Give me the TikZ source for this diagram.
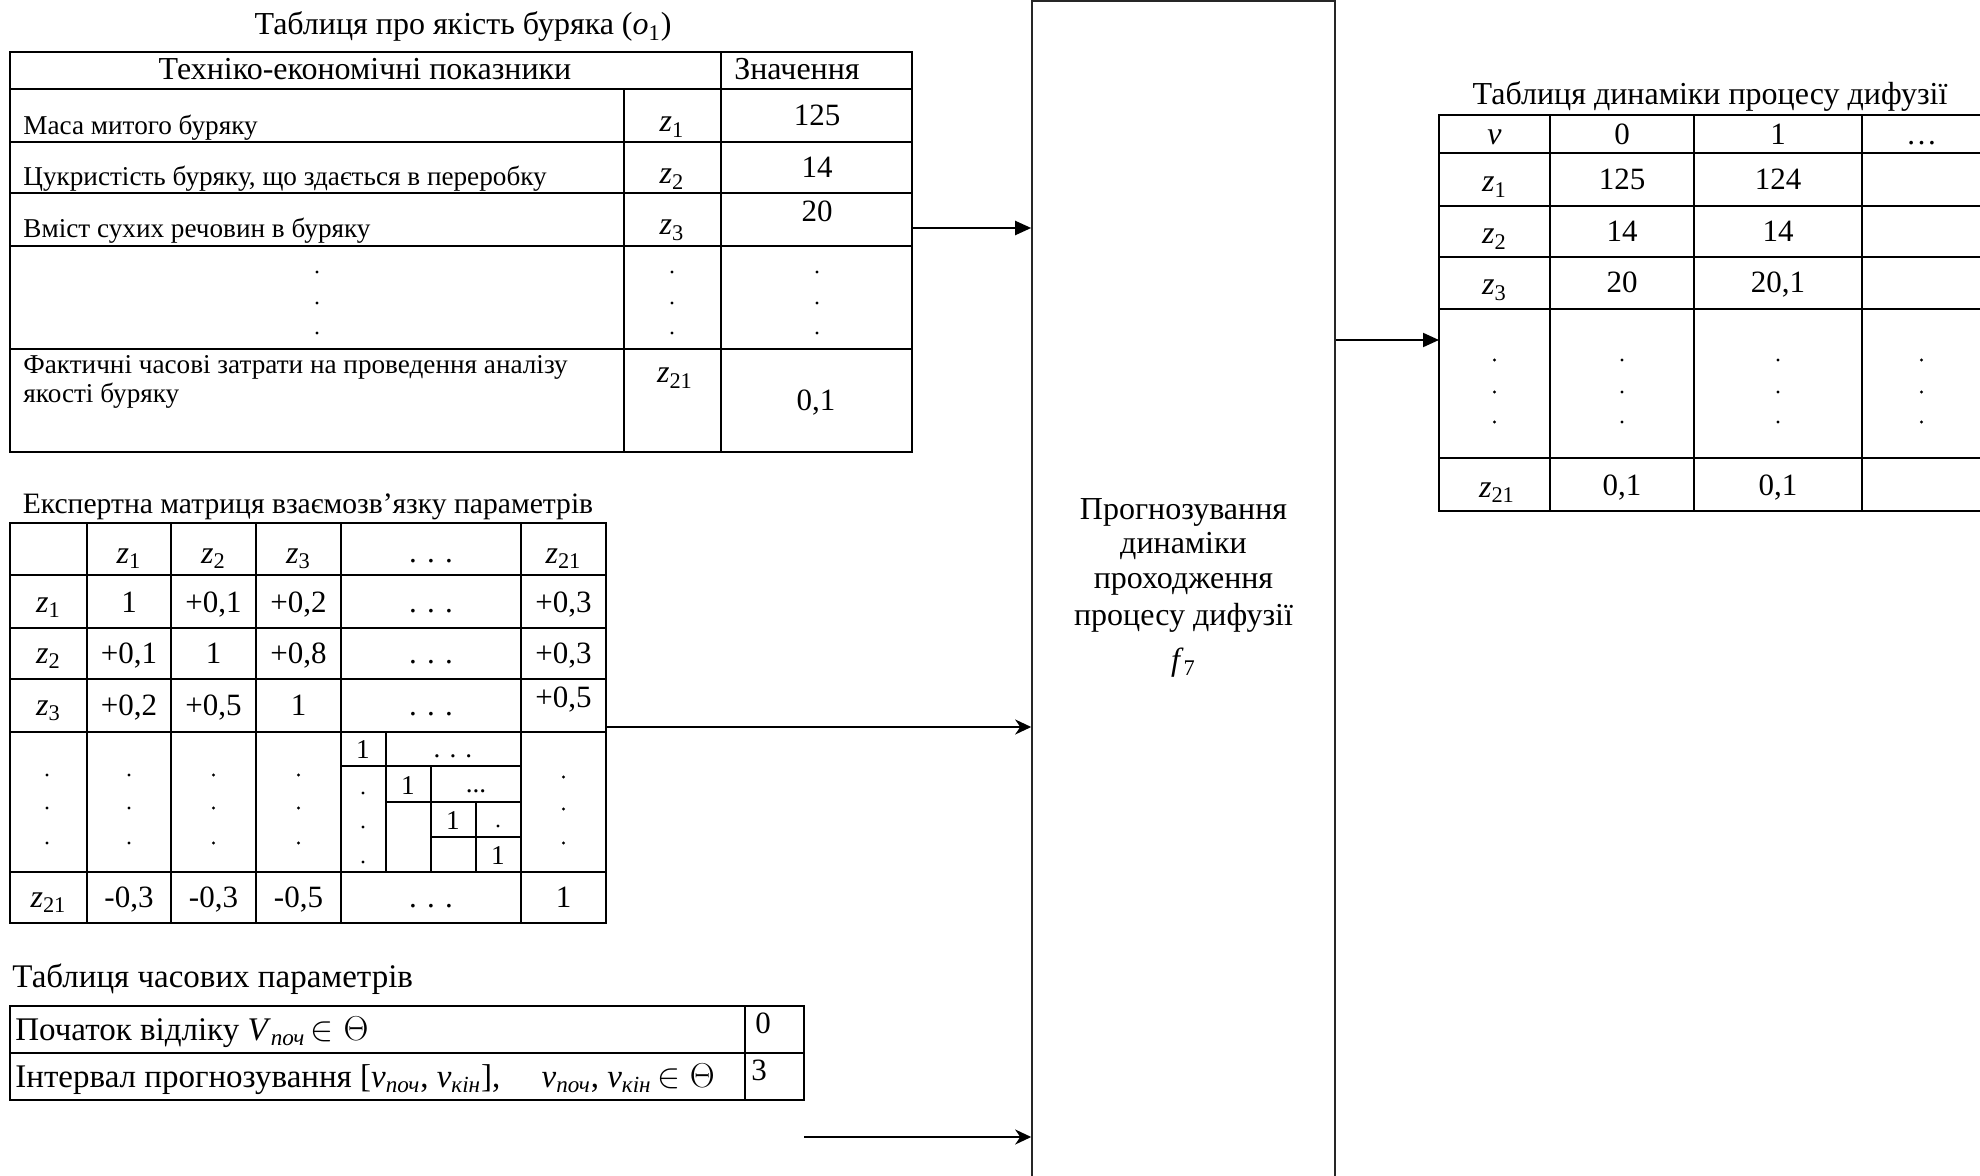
\documentclass[tikz,border=0pt]{standalone}
\usepackage{fontspec}
\setmainfont{Liberation Serif}
\usetikzlibrary{arrows.meta,fit}
\newcommand\Fbig{\fontsize{16}{19}\selectfont}
\newcommand\Fval{\fontsize{15.5}{18}\selectfont}
\newcommand\Fsml{\fontsize{13.6}{16}\selectfont}
\newcommand\Fmt{\fontsize{14.8}{17}\selectfont}
\newcommand\Ftt{\fontsize{16.5}{19}\selectfont}
\newcommand\zv[1]{\textit{z}\textsubscript{#1}}
\newcommand\sbi[1]{\textsubscript{\textit{#1}}}
\begin{document}
\begin{tikzpicture}[x=0.5pt,y=-0.5pt,
  tb/.style={inner sep=0pt, font=\Fbig, anchor=base},
  tv/.style={inner sep=0pt, font=\Fval, anchor=base},
  ts/.style={inner sep=0pt, font=\Fsml, anchor=base west},
  tsc/.style={inner sep=0pt, font=\Fsml, anchor=base},
  tl/.style={inner sep=0pt, font=\Ftt, anchor=base west},
  gridln/.style={line width=1pt, line cap=rect},
  arrA/.style={line width=1pt, -{Triangle[length=8pt,width=7pt]}},
  arrB/.style={line width=1pt, -{Stealth[length=8pt,width=7.5pt,inset=2.5pt]}},
  boxst/.style={draw=black!85, line width=0.8pt, inner sep=0pt}]
\useasboundingbox (0,0) rectangle (1980,1176);
\clip (0,0) rectangle (1980,1176);

% ---------- Table 1 ----------
\node[tb] (t1ttl) at (463,35) {Таблиця про якість буряка (\textit{o}\textsubscript{1})};
\draw[gridln] (10,52) rectangle (912,452);
\draw[gridln] (10,89) -- (912,89) (10,142) -- (912,142) (10,193) -- (912,193)
  (10,246) -- (912,246) (10,349) -- (912,349);
\draw[gridln] (721,52) -- (721,452) (624,89) -- (624,452);
\node[tb] (t1h1) at (365,80) {Техніко-економічні показники};
\node[tb] (t1h2) at (797,80) {Значення};
\node[ts] (t1a1) at (23,135) {Маса митого буряку};
\node[tb] (t1b1) at (672,132) {\zv{1}};
\node[tv] (t1c1) at (817,126) {125};
\node[ts] (t1a2) at (23,186) {Цукристість буряку, що здається в переробку};
\node[tb] (t1b2) at (672,184) {\zv{2}};
\node[tv] (t1c2) at (817,178) {14};
\node[ts] (t1a3) at (23,238) {Вміст сухих речовин в буряку};
\node[tb] (t1b3) at (672,235) {\zv{3}};
\node[tv] (t1c3) at (817,222) {20};
\foreach \x in {317,672,817} \foreach \y in {272,303,333} \fill (\x,\y) circle (1.6);
\node[ts] (t1a5) at (23,373) {Фактичні часові затрати на проведення аналізу};
\node[ts] (t1a5b) at (23,402) {якості буряку};
\node[tb] (t1b5) at (675,383) {\zv{21}};
\node[tv] (t1c5) at (816,410) {0,1};

% ---------- Matrix ----------
\node[tb, font=\Fmt] (mttl) at (308,513) {Експертна матриця взаємозв’язку параметрів};
\draw[gridln] (10,523) rectangle (606,923);
\draw[gridln] (10,575) -- (606,575) (10,628) -- (606,628) (10,679) -- (606,679)
  (10,732) -- (606,732) (10,872) -- (606,872);
\draw[gridln] (87,523) -- (87,923) (171,523) -- (171,923) (256,523) -- (256,923)
  (341,523) -- (341,923) (521,523) -- (521,923);
% sub-grid
\draw[gridln] (341,766) -- (521,766) (386,732) -- (386,872)
  (386,802) -- (521,802) (431,766) -- (431,872)
  (431,837) -- (521,837) (476,802) -- (476,872);
% header row
\node[tb] (m01) at (129,563) {\zv{1}};
\node[tb] (m02) at (213.5,563) {\zv{2}};
\node[tb] (m03) at (298.5,563) {\zv{3}};
\node[tv] (m04) at (431,562) {. . .};
\node[tb] (m05) at (563.5,563) {\zv{21}};
% row 1
\node[tb] (m10) at (48.5,612) {\zv{1}};
\node[tv] (m11) at (129,612) {1};
\node[tv] (m12) at (213.5,612) {+0,1};
\node[tv] (m13) at (298.5,612) {+0,2};
\node[tv] (m14) at (431,612) {. . .};
\node[tv] (m15) at (563.5,612) {+0,3};
% row 2
\node[tb] (m20) at (48.5,663) {\zv{2}};
\node[tv] (m21) at (129,663) {+0,1};
\node[tv] (m22) at (213.5,663) {1};
\node[tv] (m23) at (298.5,663) {+0,8};
\node[tv] (m24) at (431,663) {. . .};
\node[tv] (m25) at (563.5,663) {+0,3};
% row 3
\node[tb] (m30) at (48.5,715) {\zv{3}};
\node[tv] (m31) at (129,715) {+0,2};
\node[tv] (m32) at (213.5,715) {+0,5};
\node[tv] (m33) at (298.5,715) {1};
\node[tv] (m34) at (431,715) {. . .};
\node[tv] (m35) at (563.5,707) {+0,5};
% dots row
\foreach \x in {47,129,213.5,298.5} \foreach \y in {775,808,843} \fill (\x,\y) circle (1.6);
\foreach \y in {777,809,843} \fill (563.5,\y) circle (1.6);
\foreach \y in {793,827,862} \fill (363,\y) circle (1.6);
\fill (498,826) circle (1.6);
\node[tsc] (s1) at (363,758) {1};
\node[tsc] (s2) at (408,794) {1};
\node[tsc] (s3) at (453,829) {1};
\node[tsc] (s4) at (498,864) {1};
\node[tsc] (s5) at (453,757) {. . .};
\node[tsc] (s6) at (476,792) {...};
% row 21
\node[tb] (m50) at (48.5,907) {\zv{21}};
\node[tv] (m51) at (129,907) {-0,3};
\node[tv] (m52) at (213.5,907) {-0,3};
\node[tv] (m53) at (298.5,907) {-0,5};
\node[tv] (m54) at (431,907) {. . .};
\node[tv] (m55) at (563.5,907) {1};

% ---------- Time table ----------
\node[tl] (tttl) at (12,987) {Таблиця часових параметрів};
\draw[gridln] (10,1006) rectangle (804,1100);
\draw[gridln] (10,1053) -- (804,1053) (745,1006) -- (745,1100);
\node[tl] (tr1) at (15,1040) {Початок відліку \textit{V}\sbi{поч}\,$\in\Theta$};
\node[tv] (tv1) at (763,1033) {0};
\node[tl] (tr2) at (15,1087) {Інтервал прогнозування [\textit{v}\sbi{поч}, \textit{v}\sbi{кін}],\quad\ \textit{v}\sbi{поч}, \textit{v}\sbi{кін}\,$\in\Theta$};
\node[tv] (tv2) at (759,1080) {3};

% ---------- Central box ----------
\coordinate (bnw) at (1032,1);
\coordinate (bse) at (1335,1250);
\node[boxst, fit=(bnw)(bse)] (box) {};
\node[tb] (bl1) at (1183.5,519) {Прогнозування};
\node[tb] (bl2) at (1183.5,553) {динаміки};
\node[tb] (bl3) at (1183.5,588) {проходження};
\node[tb] (bl4) at (1183.5,625) {процесу дифузії};
\node[tb] (bl5) at (1183.5,670) {\textit{f}\textsubscript{7}};

% ---------- Table 3 ----------
\node[tb] (t3ttl) at (1710,105) {Таблиця динаміки процесу дифузії};
\draw[gridln] (1439,115) rectangle (1981,511);
\draw[gridln] (1439,153) -- (1981,153) (1439,206) -- (1981,206) (1439,257) -- (1981,257)
  (1439,309) -- (1981,309) (1439,458) -- (1981,458);
\draw[gridln] (1550,115) -- (1550,511) (1694,115) -- (1694,511) (1862,115) -- (1862,511);
\node[tb] (d00) at (1494.5,145) {\textit{ν}};
\node[tv] (d01) at (1622,145) {0};
\node[tv] (d02) at (1778,145) {1};
\node[tv] (d03) at (1921.5,145) {…};
\node[tb] (d10) at (1494.5,192) {\zv{1}};
\node[tv] (d11) at (1622,190) {125};
\node[tv] (d12) at (1778,190) {124};
\node[tb] (d20) at (1494.5,244) {\zv{2}};
\node[tv] (d21) at (1622,242) {14};
\node[tv] (d22) at (1778,242) {14};
\node[tb] (d30) at (1494.5,295) {\zv{3}};
\node[tv] (d31) at (1622,293) {20};
\node[tv] (d32) at (1778,293) {20,1};
\foreach \x in {1494.5,1622,1778,1921.5} \foreach \y in {360,392,422} \fill (\x,\y) circle (1.6);
\node[tb] (d50) at (1497,497) {\zv{21}};
\node[tv] (d51) at (1622,495) {0,1};
\node[tv] (d52) at (1778,495) {0,1};

% ---------- Connectors ----------
\coordinate (a1) at (912,228);
\draw[arrA] (a1) -- (a1 -| box.west);
\coordinate (a2) at (606,727);
\draw[arrB] (a2) -- (a2 -| box.west);
\coordinate (a3) at (804,1137);
\draw[arrB] (a3) -- (a3 -| box.west);
\coordinate (a4) at (1439,340);
\draw[arrA] (a4 -| box.east) -- (a4);
\end{tikzpicture}
\end{document}
